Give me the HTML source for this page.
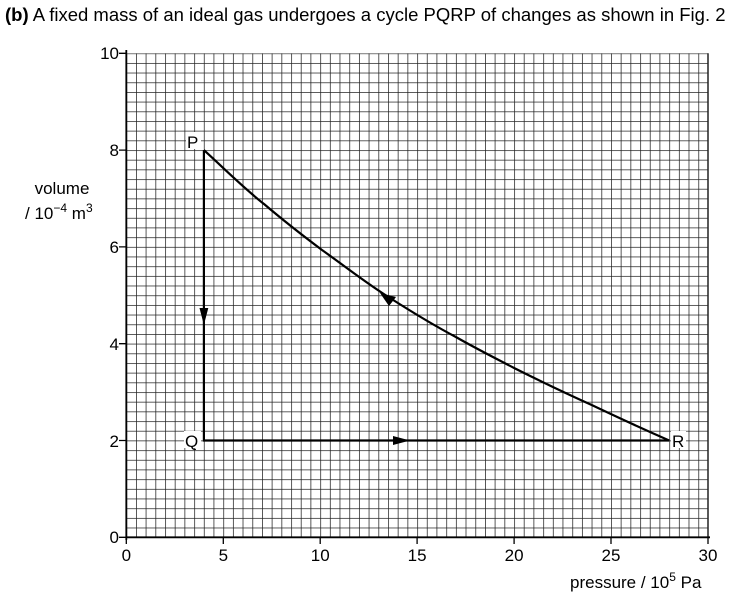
<!DOCTYPE html>
<html><head><meta charset="utf-8"><style>
body{margin:0;background:#fff;width:754px;height:600px;overflow:hidden}
svg{display:block}
text{font-family:"Liberation Sans",Arial,sans-serif;fill:#000}
</style></head><body>
<svg width="754" height="600" viewBox="0 0 754 600">
<defs>
<pattern id="g" x="126.3" y="53.3" width="9.695" height="9.68" patternUnits="userSpaceOnUse">
<path d="M0 0V9.68M0 0H9.695" stroke="#222" stroke-width="1.5" fill="none"/>
</pattern>
</defs>
<text x="5" y="21" font-size="18.5"><tspan font-weight="bold">(b)</tspan>  A fixed mass of an ideal gas undergoes a cycle PQRP of changes as shown in Fig. 2</text>
<rect x="126.3" y="53.3" width="581.7" height="484" fill="url(#g)"/>
<path d="M708 53.3V537.3M126.3 537.3H708" stroke="#222" stroke-width="1.5"/>
<path d="M126.3 50V540" stroke="#000" stroke-width="1.8"/>
<path d="M126.3 537.3H710" stroke="#000" stroke-width="1.8"/>
<g stroke="#000" stroke-width="1.3">
<path d="M119 53.3H126.3M119 150.1H126.3M119 246.9H126.3M119 343.7H126.3M119 440.5H126.3M119 537.3H126.3"/>
<path d="M126.3 537.3V544M223.3 537.3V544M320.2 537.3V544M417.1 537.3V544M514.1 537.3V544M611 537.3V544M708 537.3V544"/>
</g>
<g font-size="17" text-anchor="end">
<text x="119" y="59">10</text><text x="119" y="156">8</text><text x="119" y="253">6</text>
<text x="119" y="350">4</text><text x="119" y="447">2</text><text x="119" y="543">0</text>
</g>
<g font-size="17" text-anchor="middle">
<text x="126.3" y="561">0</text><text x="223.3" y="561">5</text><text x="320.2" y="561">10</text>
<text x="417.1" y="561">15</text><text x="514.1" y="561">20</text><text x="611" y="561">25</text><text x="708" y="561">30</text>
</g>
<text x="62" y="194" font-size="17" text-anchor="middle">volume</text>
<text x="25" y="219" font-size="17">/ 10<tspan font-size="12" dy="-7">−4</tspan><tspan dy="7"> m</tspan><tspan font-size="12" dy="-7">3</tspan></text>
<text x="570" y="588" font-size="17">pressure / 10<tspan font-size="12" dy="-7">5</tspan><tspan dy="7"> Pa</tspan></text>
<g stroke="#000" stroke-width="2.2" fill="none">
<path d="M203.9 150.1V440.5H669.2"/>
<path d="M203.9 150.1 C230 174 246 190 264 204 C284 221 302 235 322 250 C346 267 366 283 390 298 C412 312 433 325 455.9 337 C475 348 495 358 514.1 368 C540 381 565 393 591.7 405 C617 417 643 429 669.2 440.5"/>
</g>
<g fill="#000">
<path d="M199.5 308L208.3 308L203.9 325Z"/>
<path d="M393 436L410 440.5L393 445Z"/>
<path d="M380 293L396 297L389 306Z"/>
</g>
<rect x="186" y="132" width="15" height="17" fill="#fff"/>
<text x="187" y="148" font-size="17">P</text>
<rect x="184" y="431" width="17" height="17" fill="#fff"/>
<text x="185" y="447" font-size="17">Q</text>
<rect x="671" y="431" width="15" height="17" fill="#fff"/>
<text x="672" y="447" font-size="17">R</text>
</svg>
</body></html>
